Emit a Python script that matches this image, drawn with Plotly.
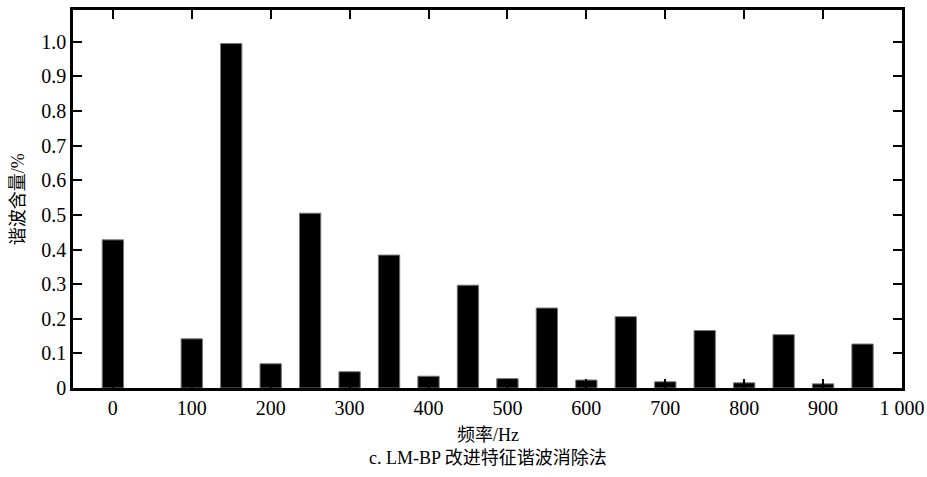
import plotly.graph_objects as go

freq = [0, 100, 150, 200, 250, 300, 350, 400, 450, 500, 550, 600, 650, 700, 750, 800, 850, 900, 950]
content = [0.428, 0.142, 0.995, 0.070, 0.505, 0.047, 0.384, 0.034, 0.297, 0.027, 0.231,
           0.023, 0.206, 0.018, 0.166, 0.015, 0.154, 0.012, 0.127]
x_tickvals = [0, 100, 200, 300, 400, 500, 600, 700, 800, 900, 1000]
x_ticktext = ["0", "100", "200", "300", "400", "500", "600", "700", "800", "900", "1 000"]
y_tickvals = [0, 0.1, 0.2, 0.3, 0.4, 0.5, 0.6, 0.7, 0.8, 0.9, 1.0]
y_ticktext = ["0", "0.1", "0.2", "0.3", "0.4", "0.5", "0.6", "0.7", "0.8", "0.9", "1.0"]

FONT = "Liberation Serif"
CJK_FONT = "Liberation Serif, Noto Sans CJK SC"

fig = go.Figure(go.Bar(
    x=freq, y=content, width=27,
    marker=dict(color="black", line=dict(color="#777777", width=1)),
))

axis_common = dict(
    showline=True, linecolor="black", linewidth=2.5, mirror="allticks",
    ticks="inside", ticklen=9, tickwidth=2, tickcolor="black",
    showgrid=False, zeroline=False, automargin=False,
    tickfont=dict(family=FONT, size=20, color="black"),
)

fig.update_xaxes(range=[-50.5, 1000], tickvals=x_tickvals, ticktext=x_ticktext, **axis_common)
fig.update_yaxes(range=[0, 1.092], tickvals=y_tickvals, ticktext=y_ticktext, **axis_common)

fig.update_layout(
    width=927, height=477,
    margin=dict(l=73, r=25, t=10, b=89, autoexpand=False),
    plot_bgcolor="white", paper_bgcolor="white",
    showlegend=False,
    font=dict(family=FONT, color="black"),
    annotations=[
        dict(text="谐波含量/%", xref="paper", yref="paper", x=-0.066, y=0.5,
             xanchor="center", yanchor="middle", textangle=-90, showarrow=False,
             font=dict(family=CJK_FONT, size=18, color="black")),
        dict(text="频率/Hz", xref="paper", yref="paper", x=0.5, y=-0.125,
             xanchor="center", yanchor="middle", showarrow=False,
             font=dict(family=CJK_FONT, size=18, color="black")),
        dict(text="c. LM-BP 改进特征谐波消除法", xref="paper", yref="paper", x=0.5, y=-0.185,
             xanchor="center", yanchor="middle", showarrow=False,
             font=dict(family=CJK_FONT, size=18, color="black")),
    ],
)

fig.write_html("out.html",
               config={"displayModeBar": False},
               post_script="document.body.style.margin='0';document.body.style.overflow='hidden';")
